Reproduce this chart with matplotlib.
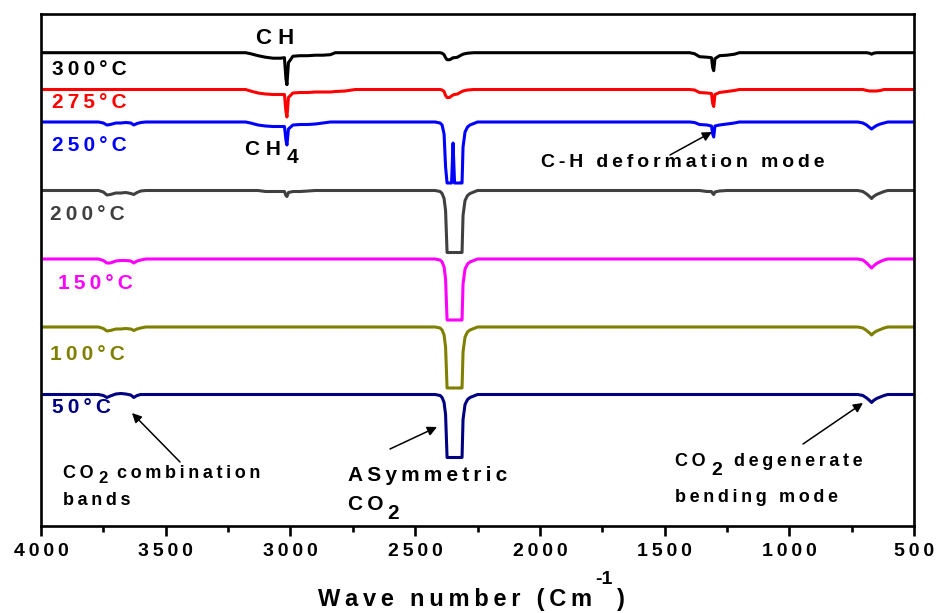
import numpy as np
import matplotlib
matplotlib.use("Agg")
import matplotlib.pyplot as plt

plt.rcParams["font.family"] = ["Liberation Sans", "DejaVu Sans"]
plt.rcParams["font.weight"] = "bold"

# ---------------- data ----------------
WAVENUMBER = [
    4000, 3770, 3750, 3736, 3722, 3700, 3680, 3660, 3640, 3628, 3615, 3600, 3580,
    3180, 3160, 3130, 3100, 3070, 3040, 3024, 3018, 3014, 3008, 2990, 2960, 2930, 2900, 2870, 2840, 2820, 2780, 2740,
    2420, 2400, 2392, 2384, 2378, 2372, 2362, 2354, 2348, 2342, 2330, 2320, 2312, 2308, 2300, 2290, 2280, 2265, 2250,
    1400, 1380, 1360, 1330, 1312, 1307, 1303, 1298, 1280, 1250, 1220, 1200,
    740, 725, 705, 690, 678, 670, 662, 650, 635, 620, 605, 500,
]

TEMPERATURES = ["300°C", "275°C", "250°C", "200°C", "150°C", "100°C", "50°C"]
COLORS = ["#000000", "#ff0000", "#0000ff", "#404040", "#ff00ff", "#808000", "#000080"]
OFFSETS = [473.3, 436.5, 404.0, 335.5, 267.0, 199.0, 131.5]

DEPTH_300 = [
    0, 0, 0, 0, 0, 0, 0, 0, 0, 0, 0, 0, 0,
    0, 1, 3, 4.5, 5.5, 5.5, 5, 26, 32, 10, 3.5, 3, 3, 2.5, 2.5, 2, 0, 0, 0,
    0, 0, 0.5, 2, 5, 7, 7, 6, 5, 5, 4.5, 3, 2, 1.5, 1, 0.5, 0.3, 0, 0,
    0, 1, 4, 4.5, 5, 15, 18, 6, 3, 2.5, 1.5, 0,
    0, 0, 0, 0, 0.5, 1.5, 0.5, 0, 0, 0, 0, 0,
]
DEPTH_275 = [
    0, 0, 0, 0, 0, 0, 0, 0, 0, 0, 0, 0, 0,
    0, 1.5, 3.5, 4.5, 5, 5, 5, 22, 27.5, 8, 3.5, 3, 3, 2.5, 2.5, 2.5, 2, 1.5, 0,
    0, 0, 0.5, 2, 6, 8, 8, 6.5, 5.5, 5, 4.5, 3, 2, 1.5, 1, 0.5, 0.3, 0, 0,
    0, 0.5, 3, 3.5, 4, 14, 17, 5, 3, 2, 1, 0,
    0, 0, 0, 1, 1.5, 1.5, 1.5, 1.5, 1, 0, 0, 0,
]
DEPTH_250 = [
    0, 0, 1, 3, 2.5, 1, 1, 0.5, 1, 3, 1.5, 0.5, 0,
    0, 1, 3, 4, 4.5, 4.5, 4.5, 18, 23, 7, 3, 2.5, 2.5, 2, 1, 0, 0, 0, 0,
    0, 1, 3, 12, 45, 61, 61, 61, 21, 61, 61, 61, 61, 25, 10, 5, 3, 1.5, 0,
    0, 0.5, 2.5, 3, 4, 12, 15, 4, 3, 2, 1, 0,
    0, 0, 1, 3, 5.5, 7, 5.5, 3.5, 2, 1, 0, 0,
]
DEPTH_200 = [
    0, 0, 1.5, 4.5, 4, 2.5, 2.5, 2, 3, 4, 2, 0.5, 0,
    0, 0, 0, 1, 1, 1, 1, 5, 6, 2, 1, 1, 0.5, 0, 0, 0, 0, 0, 0,
    0, 1, 3, 8, 20, 62, 62, 62, 62, 62, 62, 62, 62, 25, 10, 5, 3, 1.5, 0,
    0, 0, 0, 1, 1, 3, 4, 1.5, 0.5, 0, 0, 0,
    0, 0, 1, 3.5, 6, 8, 6, 4, 2.5, 1, 0, 0,
]
DEPTH_150 = [
    0, 0, 1.5, 4, 4, 2, 1.5, 1.5, 2, 4, 2, 1, 0,
    0, 0, 0, 0, 0, 0, 0, 0, 0, 0, 0, 0, 0, 0, 0, 0, 0, 0, 0,
    0, 1, 3, 8, 20, 61, 61, 61, 61, 61, 61, 61, 61, 25, 10, 5, 3, 1.5, 0,
    0, 0, 0, 0, 0, 0, 0, 0, 0, 0, 0, 0,
    0, 0, 1, 4, 7, 9, 7, 4.5, 2.5, 1, 0, 0,
]
DEPTH_100 = [
    0, 0, 1.5, 4, 3.5, 2, 2, 1.5, 2, 3.5, 2, 1, 0,
    0, 0, 0, 0, 0, 0, 0, 0, 0, 0, 0, 0, 0, 0, 0, 0, 0, 0, 0,
    0, 1, 3, 8, 20, 61, 61, 61, 61, 61, 61, 61, 61, 25, 10, 5, 3, 1.5, 0,
    0, 0, 0, 0, 0, 0, 0, 0, 0, 0, 0, 0,
    0, 0, 1, 3.5, 6, 8, 6, 4, 2.5, 1, 0, 0,
]
DEPTH_50 = [
    0, 0, 1, 3, 1.5, -0.5, -1, -0.5, 0.5, 3, 1, 0, 0,
    0, 0, 0, 0, 0, 0, 0, 0, 0, 0, 0, 0, 0, 0, 0, 0, 0, 0, 0,
    0, 1, 3, 8, 20, 63, 63, 63, 63, 63, 63, 63, 63, 25, 10, 5, 3, 1.5, 0,
    0, 0, 0, 0, 0, 0, 0, 0, 0, 0, 0, 0,
    0, 0, 1, 3.5, 6, 8, 6, 4, 2.5, 1, 0, 0,
]
DEPTHS = [DEPTH_300, DEPTH_275, DEPTH_250, DEPTH_200, DEPTH_150, DEPTH_100, DEPTH_50]

XTICKS = [4000, 3500, 3000, 2500, 2000, 1500, 1000, 500]
XTICK_LABELS = ["4000", "3500", "3000", "2500", "2000", "1500", "1000", "500"]
XLABEL = "Wave number (Cm"

# ---------------- layout helpers ----------------
W, H = 937, 613
fig = plt.figure(figsize=(W / 100, H / 100), dpi=100)
ax = fig.add_axes([41 / W, 1 - 526 / H, (914 - 41) / W, (526 - 14) / H])
renderer = fig.canvas.get_renderer()

TS = "\u2009"


def sp(s):
    return TS.join(s)


def ftext(x, y, s, size, color="black", ha="left"):
    return fig.text(x / W, 1 - y / H, s, fontsize=size, color=color, ha=ha,
                    va="baseline", fontweight="bold")


def chain(x, y, pieces, color="black"):
    """pieces: (text, size, dy, gap_after) drawn left to right."""
    for s, size, dy, gap in pieces:
        t = ftext(x, y + dy, s, size, color=color)
        bb = t.get_window_extent(renderer=renderer)
        x = bb.x1 + gap


def arrow(tail, head):
    ax.annotate("", xy=(head[0], H - head[1]), xycoords="figure pixels",
                xytext=(tail[0], H - tail[1]), textcoords="figure pixels",
                arrowprops=dict(arrowstyle="-|>", color="black", lw=1.1,
                                mutation_scale=14, shrinkA=0, shrinkB=0))


# ---------------- traces ----------------
wn = np.array(WAVENUMBER, dtype=float)
for off, dep, col in zip(OFFSETS, DEPTHS, COLORS):
    ax.plot(wn, off - np.array(dep, dtype=float), color=col, lw=2.2,
            solid_joinstyle="round")

ax.set_xlim(4000, 500)
ax.set_ylim(0, 512)
ax.set_yticks([])
ax.set_xticks(XTICKS)
ax.set_xticklabels([sp(t) for t in XTICK_LABELS])
ax.set_xticks(np.array(XTICKS[:-1]) - 250, minor=True)
for s in ax.spines.values():
    s.set_linewidth(1.9)
ax.tick_params(axis="x", which="major", direction="out", length=7.5, width=1.9,
               labelsize=14, pad=5)
ax.tick_params(axis="x", which="minor", direction="out", length=4.5, width=1.9)
for lab in ax.get_xticklabels():
    lab.set_fontweight("bold")

# x label
chain(318, 606, [(sp(XLABEL), 17, 0, 3), ("-1", 14, -22, 4), (")", 17, 0, 0)])

# temperature labels
TEMP_POS = [(52, 75), (52, 108), (52, 151), (50, 220), (58, 289), (50, 360), (52, 413)]
for (x, y), t, c in zip(TEMP_POS, TEMPERATURES, COLORS):
    ftext(x, y, sp(t), 15, color=c)

# annotations
ftext(256, 44, "C H", 16)
chain(245, 155, [("C H", 15, 0, 6), ("4", 15, 8, 0)])

ftext(541, 167, sp("C-H deformation mode"), 14)
arrow((670, 155), (712, 132))

chain(63, 478, [(sp("CO"), 13, 0, 5), ("2", 12, 5, 9), (sp("combination"), 13, 0, 0)])
ftext(63, 505, sp("bands"), 13)
arrow((180, 462), (132, 413))

ftext(348, 481, sp("ASymmetric"), 15)
chain(348, 510, [(sp("CO"), 15, 0, 4), ("2", 15, 9, 0)])
arrow((390, 449), (437, 427))

chain(675, 466, [(sp("CO"), 13, 0, 6), ("2", 14, 9, 12), (sp("degenerate"), 13, 0, 0)])
ftext(675, 502, sp("bending mode"), 13)
arrow((803, 444), (863, 403))

fig.savefig("out.png", dpi=100)
